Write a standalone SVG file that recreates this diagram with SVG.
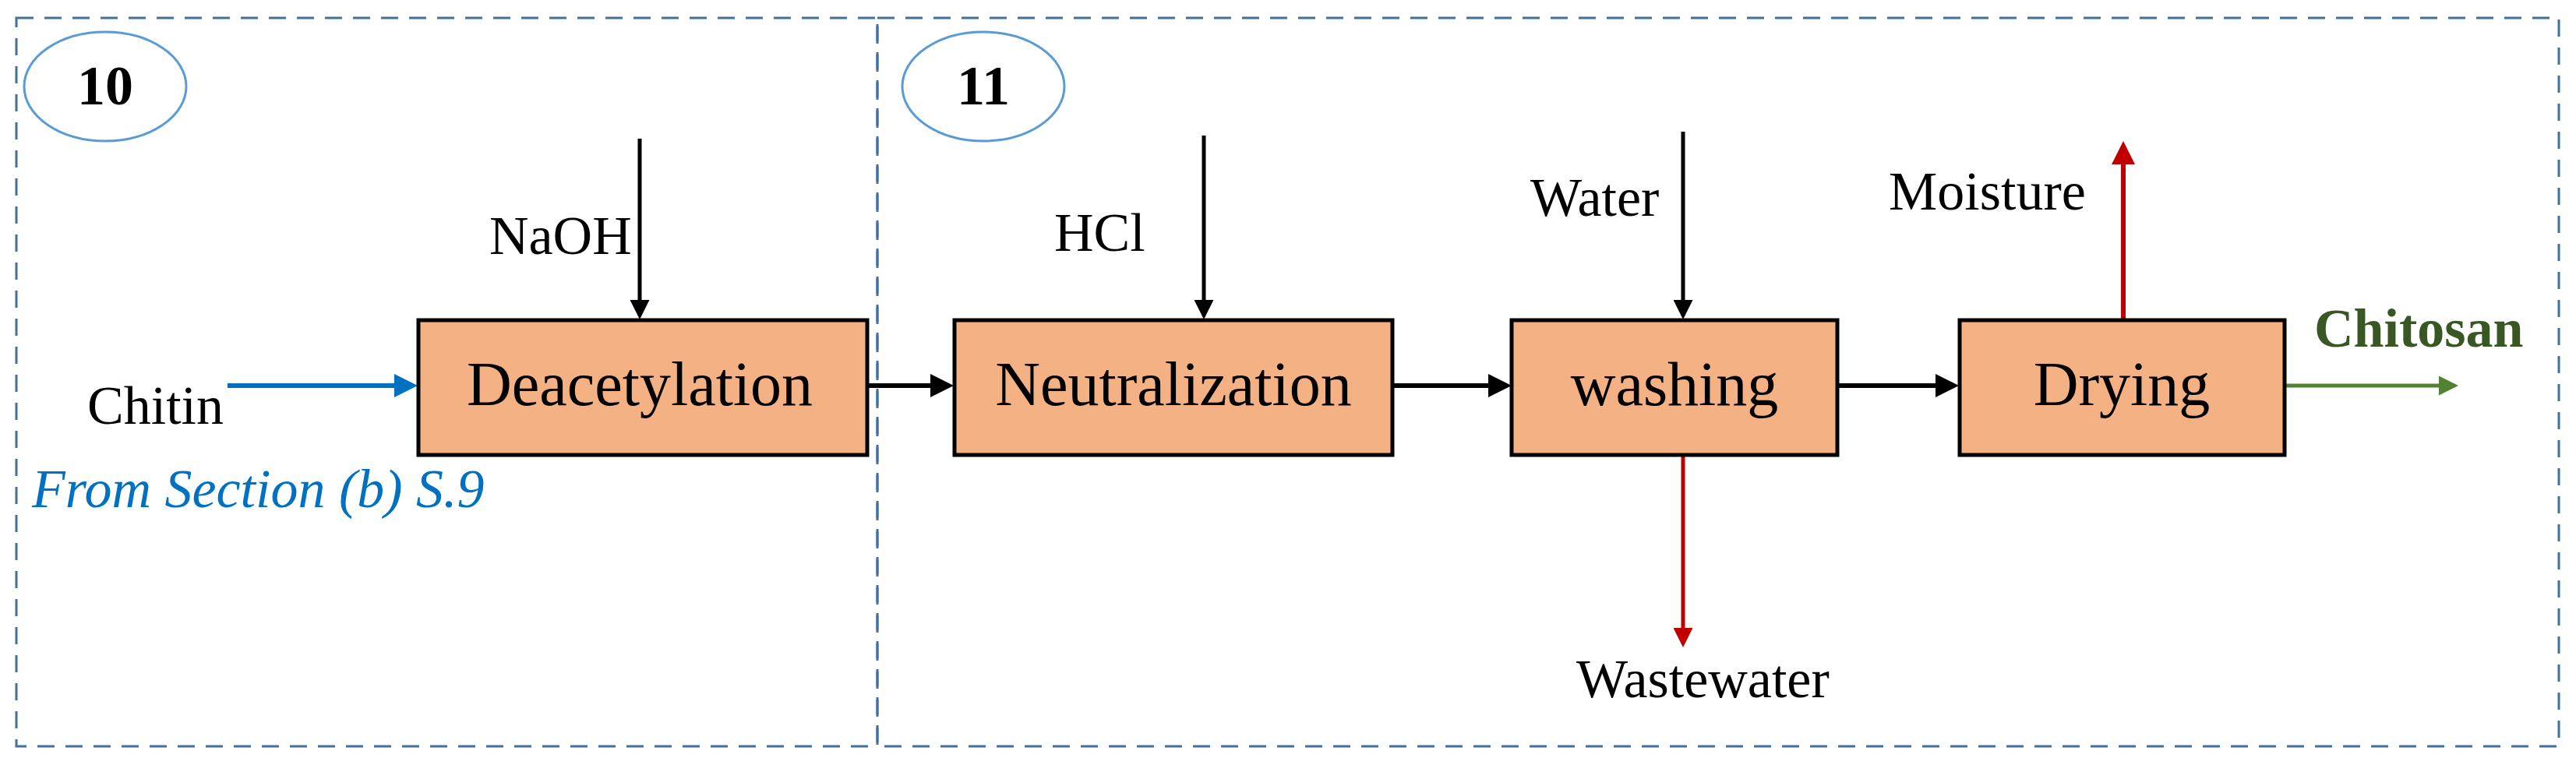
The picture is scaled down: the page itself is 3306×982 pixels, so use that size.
<svg xmlns="http://www.w3.org/2000/svg" width="3306" height="982" viewBox="0 0 3306 982">
<defs>
<style>
.t{font-family:"Liberation Serif",serif;font-size:70px;fill:#000}
.box{fill:#F4B183;stroke:#000;stroke-width:5}
.bt{font-family:"Liberation Serif",serif;font-size:80px;fill:#000;text-anchor:middle}
.dash{fill:none;stroke:#41719C;stroke-width:3;stroke-dasharray:22 14}
.ell{fill:none;stroke:#5B9BD5;stroke-width:3}
.num{font-family:"Liberation Serif",serif;font-size:72px;font-weight:bold;text-anchor:middle}
</style>
<marker id="ak" markerWidth="5" markerHeight="5" refX="4" refY="2.5" orient="auto" markerUnits="strokeWidth"><path d="M0,0L5,2.5L0,5z" fill="#000"/></marker>
<marker id="ar" markerWidth="5" markerHeight="5" refX="4" refY="2.5" orient="auto" markerUnits="strokeWidth"><path d="M0,0L5,2.5L0,5z" fill="#C00000"/></marker>
<marker id="ab" markerWidth="5" markerHeight="5" refX="4" refY="2.5" orient="auto" markerUnits="strokeWidth"><path d="M0,0L5,2.5L0,5z" fill="#0070C0"/></marker>
<marker id="ag" markerWidth="5" markerHeight="5" refX="4" refY="2.5" orient="auto" markerUnits="strokeWidth"><path d="M0,0L5,2.5L0,5z" fill="#548235"/></marker>
</defs>
<rect width="3306" height="982" fill="#fff"/>
<g id="section10">
<rect class="dash" x="21" y="23" width="1105" height="935"/>
<ellipse class="ell" cx="135" cy="111" rx="104" ry="70"/>
<text class="num" x="135" y="134">10</text>
</g>
<g id="section11">
<rect class="dash" x="1126" y="23" width="2158" height="935"/>
<ellipse class="ell" cx="1262" cy="111" rx="104" ry="70"/>
<text class="num" x="1262" y="134">11</text>
</g>
<g id="connectors">
<line x1="821" y1="178" x2="821" y2="405" stroke="#000" stroke-width="5" marker-end="url(#ak)"/>
<line x1="292" y1="495" x2="530" y2="495" stroke="#0070C0" stroke-width="6" marker-end="url(#ab)"/>
<line x1="1113" y1="495" x2="1218" y2="495" stroke="#000" stroke-width="6" marker-end="url(#ak)"/>
<line x1="1545" y1="174" x2="1545" y2="405" stroke="#000" stroke-width="5" marker-end="url(#ak)"/>
<line x1="1787" y1="495" x2="1934" y2="495" stroke="#000" stroke-width="6" marker-end="url(#ak)"/>
<line x1="2160" y1="169" x2="2160" y2="405" stroke="#000" stroke-width="5" marker-end="url(#ak)"/>
<line x1="2160" y1="584" x2="2160" y2="826" stroke="#C00000" stroke-width="5" marker-end="url(#ar)"/>
<line x1="2358" y1="495" x2="2508" y2="495" stroke="#000" stroke-width="6" marker-end="url(#ak)"/>
<line x1="2725" y1="411" x2="2725" y2="187" stroke="#C00000" stroke-width="6" marker-end="url(#ar)"/>
<line x1="2932" y1="495" x2="3150" y2="495" stroke="#548235" stroke-width="5" marker-end="url(#ag)"/>
</g>
<g id="deacetylation"><rect class="box" x="537" y="411" width="576" height="173"/><text class="bt" x="821" y="520">Deacetylation</text></g>
<g id="neutralization"><rect class="box" x="1225" y="411" width="562" height="173"/><text class="bt" x="1506" y="520">Neutralization</text></g>
<g id="washing"><rect class="box" x="1940" y="411" width="418" height="173"/><text class="bt" x="2149" y="520">washing</text></g>
<g id="drying"><rect class="box" x="2515" y="411" width="417" height="173"/><text class="bt" x="2723" y="520">Drying</text></g>
<g id="labels">
<text class="t" x="628" y="326">NaOH</text>
<text class="t" x="112" y="544">Chitin</text>
<text x="41" y="651" font-family="Liberation Serif,serif" font-size="70" font-style="italic" fill="#0070C0">From Section (b) S.9</text>
<text class="t" x="1353" y="322">HCl</text>
<text class="t" x="1964" y="277">Water</text>
<text class="t" x="2023" y="895">Wastewater</text>
<text class="t" x="2424" y="269">Moisture</text>
<text x="2970" y="445" font-family="Liberation Serif,serif" font-size="70" font-weight="bold" fill="#385723">Chitosan</text>
</g>
</svg>
